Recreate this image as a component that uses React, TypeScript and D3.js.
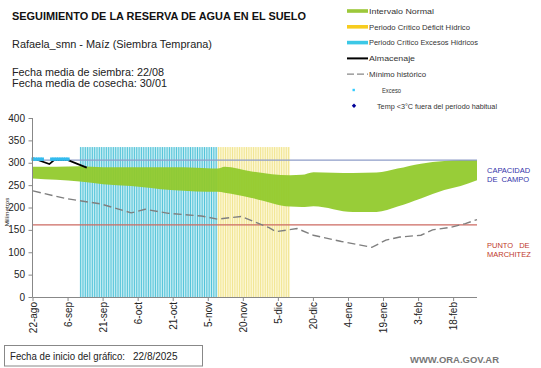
import React from 'react';
import * as d3 from 'd3';

// Fechas y valores (mm)
const bandDates = ['2025-08-22', '2025-09-01', '2025-09-11', '2025-09-21', '2025-10-03', '2025-10-20', '2025-10-31', '2025-11-09', '2025-11-12', '2025-11-23', '2025-12-10', '2025-12-15', '2025-12-20', '2026-01-06', '2026-01-16', '2026-01-25', '2026-02-04', '2026-02-14', '2026-02-21', '2026-02-28'];
const bandUpper = [291, 291, 292, 290, 290, 290, 289, 287, 291, 281, 272, 273, 279, 277, 278, 287, 298, 304, 306, 306];
const bandLower = [265, 262, 258, 252, 248, 239, 236, 235, 233, 222, 202, 201, 203, 190, 190, 202, 220, 239, 248, 261];

const minDates = ['2025-08-22', '2025-09-05', '2025-09-20', '2025-10-03', '2025-10-09', '2025-10-19', '2025-11-02', '2025-11-09', '2025-11-19', '2025-12-01', '2025-12-04', '2025-12-13', '2025-12-20', '2026-01-01', '2026-01-14', '2026-01-20', '2026-01-26', '2026-02-04', '2026-02-09', '2026-02-17', '2026-02-23', '2026-02-28'];
const minValues = [237, 220, 208, 188, 196, 187, 181, 174, 180, 155, 146, 153, 138, 124, 111, 127, 134, 138, 150, 156, 164, 173];

const almDates = ['2025-08-22', '2025-08-29', '2025-08-31', '2025-09-06', '2025-09-14'];
const almValues = [310, 297, 306, 306, 289];

const excesoDates = ['2025-08-22', '2025-08-23', '2025-08-24', '2025-08-25', '2025-08-26', '2025-08-30', '2025-08-31', '2025-09-01', '2025-09-02', '2025-09-03', '2025-09-04', '2025-09-05', '2025-09-06'];
const excesoValues = [308, 308, 308, 308, 308, 308, 308, 308, 308, 308, 308, 308, 308];

const excesosPeriod = ['2025-09-11', '2025-11-08'];
const deficitPeriod = ['2025-11-09', '2025-12-09'];
const periodTop = 335;

const capacidadCampo = 306;
const puntoMarchitez = 161;

const xTickDates = ['2025-08-22', '2025-09-06', '2025-09-21', '2025-10-06', '2025-10-21', '2025-11-05', '2025-11-20', '2025-12-05', '2025-12-20', '2026-01-04', '2026-01-19', '2026-02-03', '2026-02-18'];
const monthNames = ['ene', 'feb', 'mar', 'abr', 'may', 'jun', 'jul', 'ago', 'sep', 'oct', 'nov', 'dic'];
const yTicks = [0, 50, 100, 150, 200, 250, 300, 350, 400];

const legendItems = [
  { label: 'Intervalo Normal', kind: 'bar', color: '#9cc83a', w: 65 },
  { label: 'Periodo Crítico Déficit Hídrico', kind: 'bar', color: '#f7cc1e', w: 101 },
  { label: 'Periodo Crítico Excesos Hídricos', kind: 'bar', color: '#3cc8e6', w: 109 },
  { label: 'Almacenaje', kind: 'line', color: '#000', w: 46 },
  { label: 'Mínimo histórico', kind: 'dash', color: '#888', w: 57 },
  { label: 'Exceso', kind: 'dot', color: '#33ccff', w: 19 },
  { label: 'Temp <3°C fuera del período habitual', kind: 'diamond', color: '#000099', w: 120 },
];

const parse = d3.timeParse('%Y-%m-%d');
const font = '"Liberation Sans", Arial, sans-serif';

export default function App() {
  const x = d3.scaleTime()
    .domain([parse('2025-08-22')!, parse('2026-02-28')!])
    .range([33, 477]);
  const y = d3.scaleLinear().domain([0, 400]).range([297, 118]);

  const band = bandDates.map((d, i) => ({ date: parse(d)!, hi: bandUpper[i], lo: bandLower[i] }));
  const area = d3.area<any>()
    .x(d => x(d.date))
    .y0(d => y(d.lo))
    .y1(d => y(d.hi))
    .curve(d3.curveMonotoneX);

  const minPts = minDates.map((d, i) => ({ date: parse(d)!, v: minValues[i] }));
  const almPts = almDates.map((d, i) => ({ date: parse(d)!, v: almValues[i] }));
  const line = d3.line<any>().x(d => x(d.date)).y(d => y(d.v));

  const periodDays = (p: string[]) => d3.timeDay.range(parse(p[0])!, d3.timeDay.offset(parse(p[1])!, 1));
  const dayW = x(parse('2025-08-23')!) - x(parse('2025-08-22')!);

  const renderPeriod = (p: string[], light: string, dark: string) => {
    const days = periodDays(p);
    const x0 = x(days[0]);
    const x1 = x(days[days.length - 1]) + dayW;
    return (
      <g>
        <rect x={x0} y={y(periodTop)} width={x1 - x0} height={y(0) - y(periodTop)} fill={light} />
        {days.map((d, i) => (
          <rect key={i} x={x(d) + 0.4} y={y(periodTop)} width={1} height={y(0) - y(periodTop)} fill={dark} />
        ))}
      </g>
    );
  };

  const fmtTick = (s: string) => {
    const d = parse(s)!;
    return `${d.getDate()}-${monthNames[d.getMonth()]}`;
  };

  return (
    <svg width={541} height={368} style={{ position: 'absolute', left: 0, top: 0, background: '#fff' }} fontFamily={font}>
      <rect width={541} height={368} fill="#fff" />

      {/* encabezado */}
      <text x={12} y={19.5} fontSize={10.5} fontWeight="bold" fill="#111" textLength={294} lengthAdjust="spacingAndGlyphs">SEGUIMIENTO DE LA RESERVA DE AGUA EN EL SUELO</text>
      <text x={12} y={48} fontSize={11.2} fill="#222" textLength={200} lengthAdjust="spacingAndGlyphs">Rafaela_smn - Maíz (Siembra Temprana)</text>
      <text x={12} y={75.5} fontSize={11.2} fill="#222" textLength={152} lengthAdjust="spacingAndGlyphs">Fecha media de siembra: 22/08</text>
      <text x={12} y={86.5} fontSize={11.2} fill="#222" textLength={155} lengthAdjust="spacingAndGlyphs">Fecha media de cosecha: 30/01</text>

      {/* leyenda */}
      {legendItems.map((it, i) => {
        const cy = 11 + i * 15.8;
        let mark: any = null;
        if (it.kind === 'bar') mark = <rect x={347} y={cy - 1.8} width={21} height={3.6} fill={it.color} />;
        if (it.kind === 'line') mark = <line x1={347} x2={368} y1={cy} y2={cy} stroke={it.color} strokeWidth={2} />;
        if (it.kind === 'dash') mark = <line x1={347} x2={368} y1={cy} y2={cy} stroke={it.color} strokeWidth={1.2} strokeDasharray="7,3" />;
        if (it.kind === 'dot') mark = <rect x={352.5} y={cy - 1.2} width={2.4} height={2.4} fill={it.color} />;
        if (it.kind === 'diamond') mark = <path d={`M354,${cy - 2.2}L356.2,${cy}L354,${cy + 2.2}L351.8,${cy}Z`} fill={it.color} />;
        const tx = it.kind === 'dot' ? 382 : it.kind === 'diamond' ? 377 : 369;
        return (
          <g key={i}>
            {mark}
            <text x={tx} y={cy + 2.7} fontSize={7.6} fill="#333" textLength={it.w} lengthAdjust="spacingAndGlyphs">{it.label}</text>
          </g>
        );
      })}

      {/* periodos criticos */}
      {renderPeriod(excesosPeriod, '#c6edf4', '#52c3d8')}
      {renderPeriod(deficitPeriod, '#fcf7d4', '#f1e592')}

      {/* intervalo normal */}
      <path d={area(band) || ''} fill="#92ca2c" opacity={0.94} />

      {/* capacidad de campo y punto de marchitez */}
      <line x1={33} x2={477} y1={y(capacidadCampo)} y2={y(capacidadCampo)} stroke="#8e9cc8" strokeWidth={1.3} />
      <line x1={33} x2={477} y1={y(puntoMarchitez)} y2={y(puntoMarchitez)} stroke="#cc6a62" strokeWidth={1.3} />

      {/* minimo historico */}
      <path d={line(minPts) || ''} fill="none" stroke="#7f7f7f" strokeWidth={1.4} strokeDasharray="8,4" />

      {/* almacenaje */}
      <path d={line(almPts) || ''} fill="none" stroke="#000" strokeWidth={1.8} />

      {/* exceso */}
      {excesoDates.map((d, i) => (
        <rect key={i} x={x(parse(d)!) - 1.6} y={y(excesoValues[i]) - 1.7} width={3.2} height={3.4} fill="#33bbee" />
      ))}

      {/* ejes */}
      <line x1={32.5} x2={32.5} y1={y(400)} y2={y(0)} stroke="#888" />
      <line x1={32.5} x2={477} y1={y(0) + 0.5} y2={y(0) + 0.5} stroke="#888" />
      {yTicks.map(t => (
        <g key={t}>
          <line x1={28.5} x2={32.5} y1={y(t) + 0.5} y2={y(t) + 0.5} stroke="#888" />
          <text x={25} y={y(t) + 3.6} fontSize={10} textAnchor="end" fill="#222">{t}</text>
        </g>
      ))}
      {xTickDates.map(s => {
        const px = x(parse(s)!);
        return (
          <g key={s}>
            <line x1={px} x2={px} y1={y(0)} y2={y(0) + 4} stroke="#888" />
            <text transform={`translate(${px + 3.5},${y(0) + 5}) rotate(-90)`} fontSize={10} textAnchor="end" fill="#222">{fmtTick(s)}</text>
          </g>
        );
      })}
      <text transform="translate(9,212) rotate(-90)" fontSize={6.2} textAnchor="middle" fill="#222">Milímetros</text>

      {/* etiquetas a la derecha */}
      <text x={487} y={173} fontSize={7.5} fill="#3333aa">CAPACIDAD</text>
      <text x={487} y={181.5} fontSize={7.5} fill="#3333aa" wordSpacing={2}>DE CAMPO</text>
      <text x={487} y={248} fontSize={7.5} fill="#c0392b" wordSpacing={4}>PUNTO DE</text>
      <text x={487} y={256.5} fontSize={7.5} fill="#c0392b">MARCHITEZ</text>

      {/* pie */}
      <rect x={4.5} y={345.5} width={198} height={20.5} fill="#fff" stroke="#888" />
      <text x={10} y={359.5} fontSize={10} fill="#222" textLength={115} lengthAdjust="spacingAndGlyphs">Fecha de inicio del gráfico:</text>
      <text x={133} y={359.5} fontSize={10} fill="#222">22/8/2025</text>
      <text x={410} y={363} fontSize={8.5} fontWeight="bold" fill="#777" textLength={89} lengthAdjust="spacingAndGlyphs">WWW.ORA.GOV.AR</text>
    </svg>
  );
}
